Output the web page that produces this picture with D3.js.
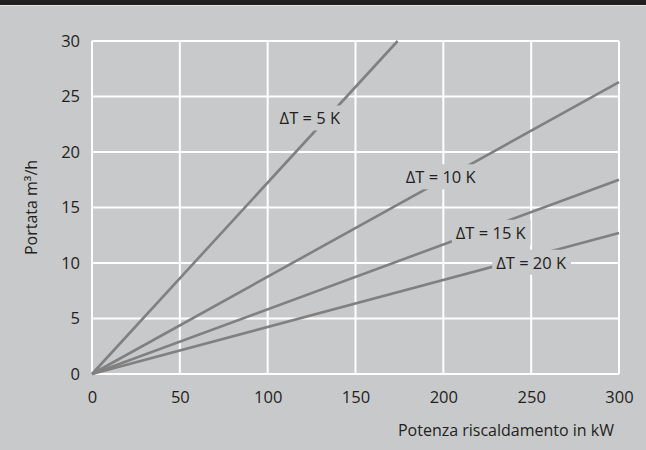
<!DOCTYPE html>
<html>
<head>
<meta charset="utf-8">
<script src="https://cdn.jsdelivr.net/npm/d3@7"></script>
<style>
  body { margin: 0; background: #c8c9cb; }
  svg { display: block; font-family: "Open Sans", sans-serif; }
  .tick text { fill: #231f20; font-size: 16.5px; }
  .label { fill: #231f20; font-size: 16px; }
  .series { fill: #231f20; font-size: 16.5px; }
</style>
</head>
<body>
<svg id="chart" width="646" height="450"></svg>
<script>
// data
const xTicks = [0, 50, 100, 150, 200, 250, 300];
const yTicks = [0, 5, 10, 15, 20, 25, 30];
const seriesNames = ["ΔT = 5 K", "ΔT = 10 K", "ΔT = 15 K", "ΔT = 20 K"];
const powerEnd = [174, 300, 300, 300];   // kW at end of each line
const flowEnd = [30, 26.3, 17.5, 12.7];   // m³/h at end of each line
const labelPower = [124, 198.5, 227, 250];  // where each label sits (kW)
const labelFlow = [23, 17.7, 12.7, 10.0];   // (m³/h)

const width = 646, height = 450;
const mLeft = 92, mRight = 619, mTop = 41, mBottom = 374;

let svg = d3.select("#chart");

// header band
svg.append("rect").attr("x", 0).attr("y", 0).attr("width", width).attr("height", 5).attr("fill", "#231f20");
svg.append("rect").attr("x", 0).attr("y", 5).attr("width", width).attr("height", 1).attr("fill", "#e6e6e6");

let xScale = d3.scaleLinear().domain([0, 300]).range([mLeft, mRight]);
let yScale = d3.scaleLinear().domain([0, 30]).range([mBottom, mTop]);

// grid
let grid = svg.append("g");
grid.selectAll(".vx").data(xTicks).enter().append("line")
    .attr("x1", d => xScale(d)).attr("x2", d => xScale(d))
    .attr("y1", mTop).attr("y2", mBottom)
    .attr("stroke", "#fff").attr("stroke-width", 2);
grid.selectAll(".hy").data(yTicks).enter().append("line")
    .attr("x1", mLeft).attr("x2", mRight)
    .attr("y1", d => yScale(d)).attr("y2", d => yScale(d))
    .attr("stroke", "#fff").attr("stroke-width", 2);

// axes (labels only)
let xAxis = svg.append("g")
    .attr("transform", `translate(0,${mBottom})`)
    .call(d3.axisBottom(xScale).tickValues(xTicks).tickSize(0).tickPadding(17));
xAxis.select(".domain").remove();

let yAxis = svg.append("g")
    .attr("transform", `translate(${mLeft},0)`)
    .call(d3.axisLeft(yScale).tickValues(yTicks).tickSize(0).tickPadding(12));
yAxis.select(".domain").remove();
svg.selectAll("g[font-family]").attr("font-family", null).attr("font-size", null);

// lines
let line = d3.line().x(d => xScale(d[0])).y(d => yScale(d[1]));
svg.append("g").selectAll("path")
    .data(seriesNames.map((n, i) => [[0, 0], [powerEnd[i], flowEnd[i]]]))
    .enter().append("path")
    .attr("d", line)
    .attr("fill", "none")
    .attr("stroke", "#808080")
    .attr("stroke-width", 2.6);

// series labels with background boxes
let lab = svg.append("g").selectAll("g").data(seriesNames).enter().append("g")
    .attr("transform", (d, i) => `translate(${xScale(labelPower[i])},${yScale(labelFlow[i])})`);
lab.append("text")
    .attr("class", "series")
    .attr("text-anchor", "middle")
    .attr("dy", "0.35em")
    .text(d => d);
lab.each(function () {
    let g = d3.select(this);
    let bb = g.select("text").node().getBBox();
    g.insert("rect", "text")
        .attr("x", bb.x - 4).attr("y", bb.y - 1)
        .attr("width", bb.width + 8).attr("height", bb.height + 2)
        .attr("fill", "#c8c9cb");
});

// axis titles
svg.append("text").attr("class", "label")
    .attr("x", 614).attr("y", 430).attr("dy", "0.35em")
    .attr("text-anchor", "end")
    .text("Potenza riscaldamento in kW");

svg.append("text").attr("class", "label")
    .attr("transform", `translate(31,${(mTop + mBottom) / 2}) rotate(-90)`)
    .attr("text-anchor", "middle")
    .attr("dy", "0.35em")
    .text("Portata m³/h");
</script>
</body>
</html>
